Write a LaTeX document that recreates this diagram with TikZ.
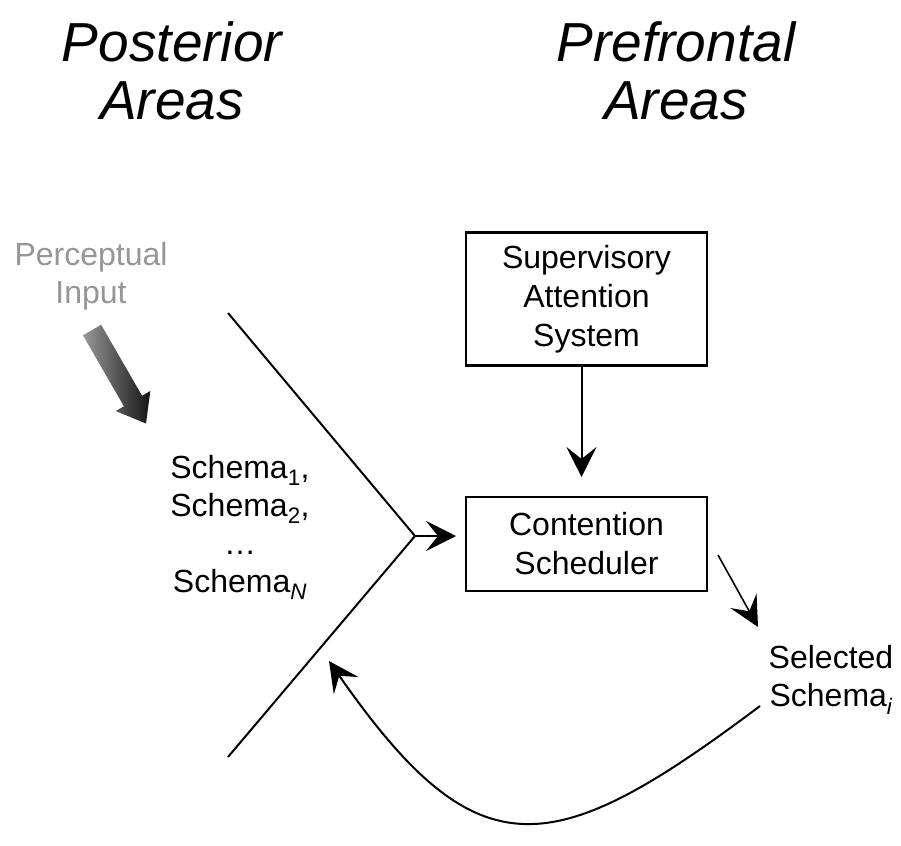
\documentclass[tikz,border=0pt]{standalone}
\usepackage{fontspec}
\setmainfont{Liberation Sans}
\usetikzlibrary{arrows.meta}
\definecolor{inputgray}{RGB}{150,150,150}
\begin{document}
\begin{tikzpicture}[x=1pt,y=-1pt,
  every node/.style={inner sep=0pt, outer sep=0pt},
  title/.style={font=\fontsize{55}{58}\selectfont\itshape, align=center},
  lbl/.style={font=\fontsize{32}{38}\selectfont, align=center},
  procbox/.style={draw, line width=2.2pt, minimum width=241pt, align=center,
    font=\fontsize{32}{39}\selectfont},
  conn/.style={line width=2pt, -{Stealth[length=30pt,width=30pt,inset=12pt]}},
  plain/.style={line width=2pt}]
\useasboundingbox (0,0) rectangle (901,845);

% column headings
\node[title] (post) at (172,71) {Posterior\\Areas};
\node[title] (pref) at (676,71) {Prefrontal\\Areas};

% perceptual input and its shaded arrow
\node[lbl, text=inputgray] (percept) at (91,276) {Perceptual\\Input};
\begin{scope}[shift={(92,330)}, rotate=-60]
  \shade[left color=black!40, right color=black!92]
    (0,-10.5) -- (82,-10.5) -- (82,-20) -- (108,0) -- (82,20) -- (82,10.5)
    -- (0,10.5) -- cycle;
\end{scope}

% supervisory system and contention scheduler
\node[procbox, minimum height=133pt] (sas) at (586.5,299) {Supervisory\\Attention\\System};
\node[procbox, minimum height=94pt] (cs) at (586.5,544) {Contention\\Scheduler};
\draw[conn, shorten >=20pt] ([xshift=-5pt]sas.south) -- ([xshift=-5pt]cs.north);

% converging schema lines
\coordinate (vtop) at (228,313);
\coordinate (vx) at (415,536);
\coordinate (vbot) at (228,757);
\draw[plain] (vtop) -- (vx) -- (vbot);
\draw[conn, shorten >=10pt] (vx) -- (vx -| cs.west);

\node[lbl] (schemas) at (240,527)
  {Schema\textsubscript{1},\\Schema\textsubscript{2},\\\dots\\Schema\textsubscript{\itshape N}};

% selected schema and feedback loop
\node[lbl] (sel) at (831,680) {Selected\\Schema\textsubscript{\itshape i}};
\coordinate (selin) at (758,627);
\coordinate (fbout) at (760,706);
\coordinate (fbin) at (329,661);
\draw[conn, line width=1.6pt] ([xshift=11pt,yshift=-11pt]cs.east) -- (selin);
\draw[conn] (fbout) .. controls (552,862) and (478,875) .. (fbin);
\end{tikzpicture}
\end{document}
